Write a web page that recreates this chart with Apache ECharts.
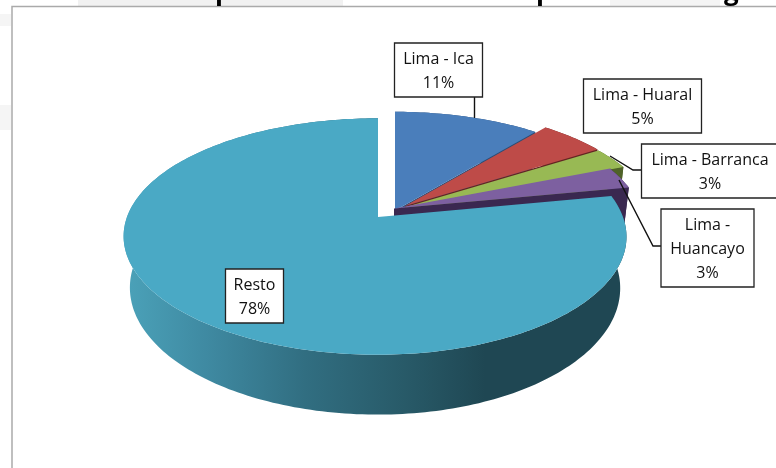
<!DOCTYPE html>
<html>
<head>
<meta charset="utf-8">
<style>html,body{margin:0;padding:0;background:#fff}#chart{width:776px;height:468px}</style>
<script src="https://cdn.jsdelivr.net/npm/echarts@6/dist/echarts.min.js"></script>
</head>
<body>
<div id="chart"></div>
<script>
// Route shares, in percent
const routeNames = ['Lima - Ica', 'Lima - Huaral', 'Lima - Barranca', 'Lima -\nHuancayo', 'Resto'];
const routeShares = [11, 5, 3, 3, 78];

// Slice styling and exploded apex positions
const topColors = ['#4a7ebb', '#be4b48', '#98b954', '#7d60a0', '#4aa9c5'];
const wallColors = ['#2c4d75', '#632523', '#4f6228', '#3a2850', null];
const apexes = [[395, 210.5], [405, 206], [406, 207], [394, 208.5], [378, 217]];
const rimShifts = [0, 0, 0, -1.5, -3];
const labelBoxes = [
  [394.5, 43, 88, 54], [583.5, 79, 118, 54], [641.5, 144, 140, 54],
  [661, 209, 93, 78], [225.5, 269, 58, 54]
];
const leaderLines = [
  [[474.5, 97], [474.5, 118]],
  null,
  [[610, 156], [633, 170], [642, 170]],
  [[619, 180], [653, 246], [661, 246]],
  null
];

// Perspective model of the disc
const RADIUS = 248, FLATTEN = 115, PERSP = 0.165, DEPTH = 50, BOTTOM_SHRINK = 0.975;
const TOTAL = routeShares.reduce((a, b) => a + b, 0);

function project(i, angle, lower) {
  const apex = apexes[i];
  const u = Math.sin(angle), v = -Math.cos(angle);
  const s = 1 / (1 - PERSP * v);
  const xs = lower ? BOTTOM_SHRINK : 1;
  return [
    apex[0] + RADIUS * u * s * xs + rimShifts[i] * Math.abs(u),
    apex[1] + FLATTEN * v * s + (lower ? DEPTH * s : 0)
  ];
}
function arcPoints(i, a0, a1, lower) {
  const n = Math.max(4, Math.ceil((a1 - a0) / 0.02));
  const pts = [];
  for (let k = 0; k <= n; k++) pts.push(project(i, a0 + (a1 - a0) * k / n, lower));
  return pts;
}

const restoWall = new echarts.graphic.LinearGradient(125, 0, 625, 0, [
  { offset: 0, color: '#4ba2b9' },
  { offset: 0.16, color: '#3f8aa2' },
  { offset: 0.36, color: '#316e81' },
  { offset: 0.56, color: '#285a68' },
  { offset: 0.72, color: '#1f4753' },
  { offset: 1, color: '#1f4753' }
], true);

let running = 0;
const sliceData = routeShares.map((v) => {
  const row = [v, running];
  running += v;
  return row;
});

function renderSlice(params, api) {
  const i = params.dataIndex;
  const a0 = api.value(1) / TOTAL * Math.PI * 2;
  const a1 = (api.value(1) + api.value(0)) / TOTAL * Math.PI * 2;
  const apex = apexes[i];
  const top = arcPoints(i, a0, a1, false);
  const bottom = arcPoints(i, a0, a1, true);
  const children = [];
  children.push({
    type: 'polygon',
    shape: { points: top.concat(bottom.slice().reverse()) },
    style: { fill: wallColors[i] || restoWall }
  });
  if (wallColors[i]) {
    const tip = top[top.length - 1], tipLow = bottom[bottom.length - 1];
    children.push({
      type: 'polygon',
      shape: { points: [apex, tip, tipLow, [apex[0], apex[1] + DEPTH]] },
      style: { fill: wallColors[i] }
    });
  }
  children.push({
    type: 'polygon',
    shape: { points: [apex].concat(top) },
    style: { fill: topColors[i] }
  });
  return { type: 'group', children };
}

function renderLabel(params, api) {
  const i = params.dataIndex;
  const b = labelBoxes[i];
  const children = [];
  if (leaderLines[i]) {
    children.push({
      type: 'polyline',
      shape: { points: leaderLines[i] },
      style: { stroke: '#111', lineWidth: 1.4, fill: 'none' }
    });
  }
  children.push({
    type: 'rect',
    shape: { x: b[0], y: b[1], width: b[2], height: b[3] },
    style: { fill: '#fff', stroke: '#222', lineWidth: 1.3 }
  });
  children.push({
    type: 'text',
    style: {
      text: routeNames[i] + '\n' + api.value(0) + '%',
      x: Math.min(b[0] + b[2] / 2, 710),
      y: b[1] + b[3] / 2 + 1,
      align: 'center',
      verticalAlign: 'middle',
      fontFamily: '"Open Sans", sans-serif',
      fontSize: 16,
      lineHeight: 24,
      fill: '#111'
    }
  });
  return { type: 'group', children };
}

const headingFont = { fontFamily: '"Open Sans", sans-serif', fontWeight: 'bold', fontSize: 26, fill: '#000', verticalAlign: 'top' };

const chart = echarts.init(document.getElementById('chart'), null, { renderer: 'canvas' });
chart.setOption({
  animation: false,
  backgroundColor: '#fff',
  graphic: {
    elements: [
      // Pale page marks around the chart frame
      { type: 'rect', silent: true, z: 0, shape: { x: 78, y: 0, width: 265, height: 6 }, style: { fill: '#f1f1f1' } },
      { type: 'rect', silent: true, z: 0, shape: { x: 610, y: 0, width: 110, height: 6 }, style: { fill: '#f4f4f4' } },
      { type: 'rect', silent: true, z: 0, shape: { x: 0, y: 14, width: 11, height: 12 }, style: { fill: '#f5f5f5' } },
      { type: 'rect', silent: true, z: 0, shape: { x: 0, y: 105, width: 11, height: 25 }, style: { fill: '#f5f5f5' } },
      // Chart frame, running past the right and bottom edges
      { type: 'rect', silent: true, z: 1, shape: { x: 12, y: 6.5, width: 800, height: 500 }, style: { fill: '#fff', stroke: '#aaaaaa', lineWidth: 1.5 } },
      // Lower parts of the heading letters at the page's top edge
      { type: 'text', silent: true, z: 2, style: Object.assign({ text: 'p', x: 215, y: -20 }, headingFont) },
      { type: 'text', silent: true, z: 2, style: Object.assign({ text: 'p', x: 536, y: -20 }, headingFont) },
      { type: 'text', silent: true, z: 2, style: Object.assign({ text: 'g', x: 724, y: -20 }, headingFont) }
    ]
  },
  series: [
    { type: 'custom', coordinateSystem: 'none', z: 5, silent: true, clip: false, data: sliceData, renderItem: renderSlice },
    { type: 'custom', coordinateSystem: 'none', z: 6, silent: true, clip: false, data: sliceData, renderItem: renderLabel }
  ]
});
</script>
</body>
</html>
